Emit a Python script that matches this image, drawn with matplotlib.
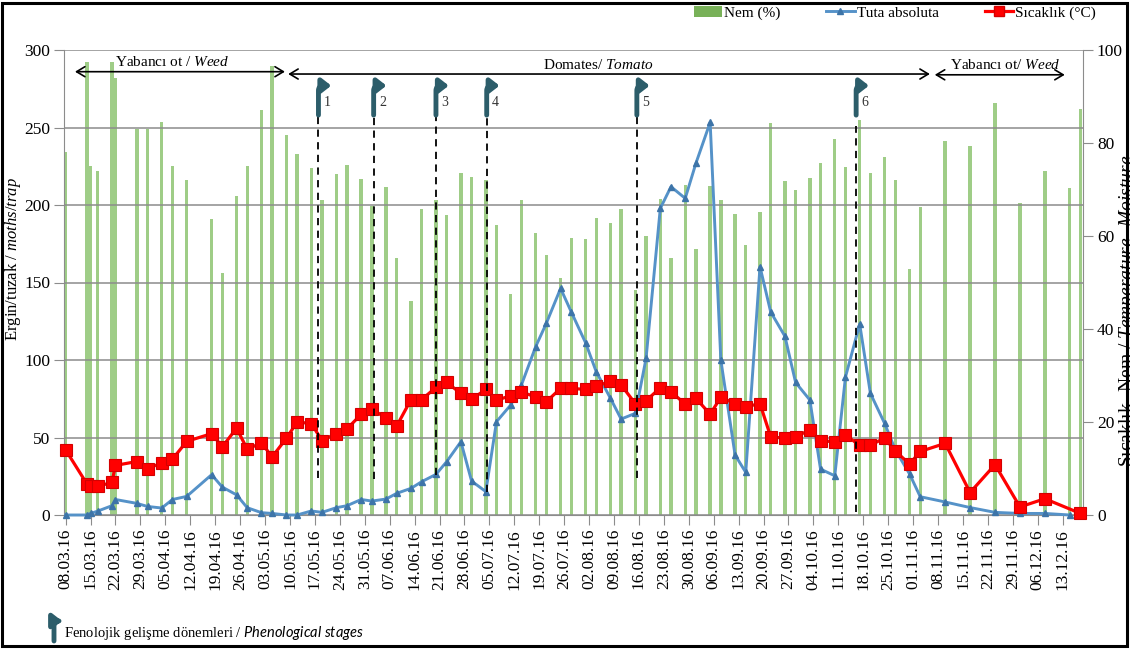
import numpy as np
import pandas as pd
import matplotlib
matplotlib.use("Agg")
import matplotlib.pyplot as plt
import matplotlib.dates as mdates
from matplotlib.patches import Patch, Rectangle, FancyArrowPatch
from matplotlib.lines import Line2D

# fonts: Times-like serif, italic parts through mathtext
plt.rcParams['font.family'] = ['Liberation Serif', 'DejaVu Serif']
plt.rcParams['mathtext.fontset'] = 'custom'
plt.rcParams['mathtext.rm'] = 'Liberation Serif'
plt.rcParams['mathtext.it'] = 'Liberation Serif:italic'
plt.rcParams['mathtext.sf'] = 'Lato:italic'

# ---- data (sampling dates, 2016) ----
dates = pd.to_datetime([
    "2016-03-08", "2016-03-14", "2016-03-15", "2016-03-17", "2016-03-21", "2016-03-22",
    "2016-03-28", "2016-03-31", "2016-04-04", "2016-04-07", "2016-04-11", "2016-04-18",
    "2016-04-21", "2016-04-25", "2016-04-28", "2016-05-02", "2016-05-05", "2016-05-09",
    "2016-05-12", "2016-05-16", "2016-05-19", "2016-05-23", "2016-05-26", "2016-05-30",
    "2016-06-02", "2016-06-06", "2016-06-09", "2016-06-13", "2016-06-16", "2016-06-20",
    "2016-06-23", "2016-06-27", "2016-06-30", "2016-07-04", "2016-07-07", "2016-07-11",
    "2016-07-14", "2016-07-18", "2016-07-21", "2016-07-25", "2016-07-28", "2016-08-01",
    "2016-08-04", "2016-08-08", "2016-08-11", "2016-08-15", "2016-08-18", "2016-08-22",
    "2016-08-25", "2016-08-29", "2016-09-01", "2016-09-05", "2016-09-08", "2016-09-12",
    "2016-09-15", "2016-09-19", "2016-09-22", "2016-09-26", "2016-09-29", "2016-10-03",
    "2016-10-06", "2016-10-10", "2016-10-13", "2016-10-17", "2016-10-20", "2016-10-24",
    "2016-10-27", "2016-10-31", "2016-11-03", "2016-11-10", "2016-11-17", "2016-11-24",
    "2016-12-01", "2016-12-08", "2016-12-15", "2016-12-18",
])

# Nem (%) -> right axis
nem = [78, 97.5, 75, 74, 97.5, 94, 83, 83, 84.5, 75, 72, 63.7,
       52, 68.6, 75.1, 87, 96.6, 81.8, 77.6, 74.7, 67.7, 73.3, 75.3, 72.3,
       66.5, 70.5, 55.2, 46, 65.8, 67.7, 64.5, 73.5, 72.7, 72, 62.3, 47.6,
       67.7, 60.6, 55.9, 50.9, 59.6, 59.4, 63.8, 62.7, 65.8, 48.4, 59.9, 68,
       55.2, 71, 57.3, 70.8, 67.7, 64.8, 58.1, 65.1, 84.2, 71.8, 69.9, 72.5,
       75.8, 80.9, 74.9, 84.9, 73.6, 76.9, 72, 52.9, 66.3, 80.4, 79.4, 88.7,
       67.2, 74, 70.3, 87.3]

# Tuta absoluta (moths/trap) -> left axis
tuta = [0, 0, 1, 2.5, 6, 10, 7.5, 5.5, 4.5, 10, 12, 26,
        18, 13, 4.7, 1.5, 1, 0, 0, 2.6, 1.7, 4.7, 6, 10,
        9, 10.3, 14, 17.2, 21.5, 26.2, 34.4, 47.3, 21.9, 15.1, 60.2, 71,
        83.9, 108.6, 123.7, 146.2, 131, 111.2, 92.5, 75.3, 61.9, 65.6, 101, 197.8,
        211.8, 204.3, 226.9, 253.3, 100, 38.7, 27.5, 160.2, 131, 115.3, 85.5, 74.2,
        29.6, 25.3, 89, 123.2, 78.5, 59.1, 42, 26.5, 11.8, 8.4, 4.8, 1.7,
        1, 1, 0, np.nan]

# Sicaklik (deg C) -> left axis
sicaklik = [42, 20, 19, 18.5, 21, 32, 34.5, 30, 33.5, 36, 47.5, 52.5,
            44, 56, 42.5, 46.5, 37.5, 49.5, 60, 59, 48, 52.5, 55.5, 65,
            68.5, 62.4, 57.5, 74.5, 74.5, 82.3, 85.5, 78.5, 74.6, 81, 74, 77,
            79.2, 76.3, 73.1, 81.7, 81.7, 81, 83, 86.3, 83.9, 71.8, 73.8, 82,
            79.6, 71.5, 75.3, 65, 76, 71.8, 69.9, 71.8, 50.5, 49.5, 50.5, 54.8,
            47.8, 47.3, 51.5, 45, 45, 49.7, 41.3, 32.8, 41, 46.2, 14.5, 32.5,
            5.2, 10.5, np.nan, 1]

tick_dates = pd.date_range("2016-03-08", "2016-12-13", freq="7D")

# phenological stages
stage_dates = pd.to_datetime(["2016-05-18 00:00", "2016-06-02 12:00", "2016-06-20 00:00",
                              "2016-07-04 06:00", "2016-08-15 10:00", "2016-10-16 00:00"])
stage_labels = ["1", "2", "3", "4", "5", "6"]
stage_top = [261, 261, 261, 261, 260, 251]
stage_bottom = [24, 23, 26, 15, 24, 2]

# periods (weed / tomato / weed)
period_start = pd.to_datetime(["2016-03-10 15:00", "2016-05-09 12:00", "2016-11-07 02:00"])
period_end = pd.to_datetime(["2016-05-08 14:00", "2016-11-05 17:00", "2016-12-13 14:00"])
period_text_x = pd.to_datetime(["2016-04-07 00:00", "2016-08-04 12:00", "2016-11-27 00:00"])
period_labels = [r"Yabancı ot / $\mathit{Weed}$", r"Domates/ $\mathit{Tomato}$",
                 r"Yabancı ot/ $\mathit{Weed}$"]
period_arrow_y = [286, 284.5, 284]
period_text_y = [290, 287.5, 287.5]

# ---- colours ----
green = "#9fcd87"
green_leg = "#78b158"
blue = "#5592c8"
blue_dark = "#3d74a8"
red = "#ff0000"
red_dark = "#d40000"
teal = "#2c5d6a"
grey = "#8c8c8c"

W, H = 1130, 649
fig = plt.figure(figsize=(W / 100, H / 100), dpi=100)
ax = fig.add_axes([64 / W, 1 - 515 / H, (1083 - 64) / W, (515 - 50) / H])
axb = ax.twinx()
ax.set_zorder(axb.get_zorder() + 1)
ax.patch.set_visible(False)

# bars: moisture on the right axis
axb.bar(dates, nem, width=0.95, color=green, linewidth=0)
axb.set_ylim(0, 100)
axb.set_yticks(range(0, 101, 20))

# lines on the left axis
t = np.array(tuta, dtype=float)
s = np.array(sicaklik, dtype=float)
mt = ~np.isnan(t)
ms = ~np.isnan(s)
ax.plot(dates[mt], t[mt], color=blue, lw=2.1, marker="^", ms=5,
        mfc=blue_dark, mec=blue_dark, clip_on=False, zorder=3)
ax.plot(dates[ms], s[ms], color=red, lw=2.3, marker="s", ms=8.5,
        mfc=red, mec=red_dark, mew=0.8, clip_on=False, zorder=4)

ax.set_ylim(0, 300)
ax.set_yticks(range(0, 301, 50))
ax.set_xlim(pd.Timestamp("2016-03-07 13:00"), pd.Timestamp("2016-12-18 17:00"))
ax.set_xticks(tick_dates)
ax.xaxis.set_major_formatter(mdates.DateFormatter("%d.%m.%y"))
ax.grid(axis="y", color=grey, lw=1.1)
ax.grid(axis="x", visible=False)

for a in (ax, axb):
    for sp in a.spines.values():
        sp.set_color(grey)
    a.spines["top"].set_visible(False)
ax.spines["right"].set_visible(False)
axb.spines["left"].set_visible(False)
axb.spines["bottom"].set_visible(False)

ax.tick_params(axis="y", length=7, color=grey, labelsize=12.5, pad=3)
ax.tick_params(axis="x", length=7, color=grey, labelsize=12.5, pad=3, labelrotation=90)
axb.tick_params(axis="y", length=7, color=grey, labelsize=12.5, pad=3)

ax.set_ylabel(r"Ergin/tuzak / $\mathit{moths/trap}$", fontsize=12)
ax.yaxis.set_label_coords(-0.040, 0.55)
# the reference crops this label at the right edge of the picture
axb.set_ylabel(r"Sıcaklık- Nem / $\mathit{Temperature}$- $\mathit{Moisture}$",
               fontsize=14, rotation=90, va="top")
axb.yaxis.set_label_coords(1.033, 0.44)

# phenological stage markers
for d, lab, top, bot in zip(stage_dates, stage_labels, stage_top, stage_bottom):
    ax.plot([d, d], [bot, top], ls=(0, (4, 3)), color="black", lw=1.3, zorder=5)
    ax.annotate("", xy=(d + pd.Timedelta(days=3.6), 277), xytext=(d, 258),
                arrowprops=dict(arrowstyle="-|>,head_length=0.45,head_width=0.35",
                                connectionstyle="angle,angleA=90,angleB=0,rad=5",
                                color=teal, lw=3.5, shrinkA=0, shrinkB=0,
                                mutation_scale=12), zorder=6)
    ax.text(d + pd.Timedelta(days=1.5), 266, lab, fontsize=10, ha="left",
            va="center", color="#333333", zorder=6)

# period arrows
for st, en, tx, lab, ay, ty in zip(period_start, period_end, period_text_x,
                                   period_labels, period_arrow_y, period_text_y):
    ax.annotate("", xy=(en, ay), xytext=(st, ay),
                arrowprops=dict(arrowstyle="<->,head_length=0.5,head_width=0.3",
                                color="black", lw=1.2, shrinkA=0, shrinkB=0,
                                mutation_scale=12))
    ax.text(tx, ty, lab, fontsize=11, ha="center", va="baseline")

# legend above the plot
handles = [
    Patch(facecolor=green_leg, edgecolor="none"),
    Line2D([], [], color=blue, lw=2.1, marker="^", ms=5, mfc=blue_dark, mec=blue_dark),
    Line2D([], [], color=red, lw=2.3, marker="s", ms=7.5, mfc=red, mec=red_dark),
]
fig.legend(handles, ["Nem (%)", "Tuta absoluta", "Sıcaklık (°C)"],
           loc="upper right", bbox_to_anchor=(1096 / W, 1 - 6 / H), ncol=3,
           frameon=False, fontsize=11, handlelength=1.85, handletextpad=0.15,
           columnspacing=3.0, borderaxespad=0, borderpad=0)

# bottom note with the stage icon
fig.add_artist(FancyArrowPatch(
    (54, H - 641), (62, H - 621), transform=None,
    arrowstyle="-|>,head_length=0.45,head_width=0.35",
    connectionstyle="angle,angleA=90,angleB=0,rad=5",
    color=teal, lw=3.5, mutation_scale=12, shrinkA=0, shrinkB=0))
fig.text(64 / W, 1 - 633 / H,
         r"Fenolojik gelişme dönemleri / $\mathsf{Phenological\ stages}$",
         fontsize=10.5, va="center", ha="left")

# outer frame
fig.add_artist(Rectangle((2 / W, 3 / H), 1 - 5 / W, 1 - 6 / H,
                         transform=fig.transFigure, fill=False, lw=2.2,
                         ec="black"))

fig.savefig("out.png", dpi=100)
